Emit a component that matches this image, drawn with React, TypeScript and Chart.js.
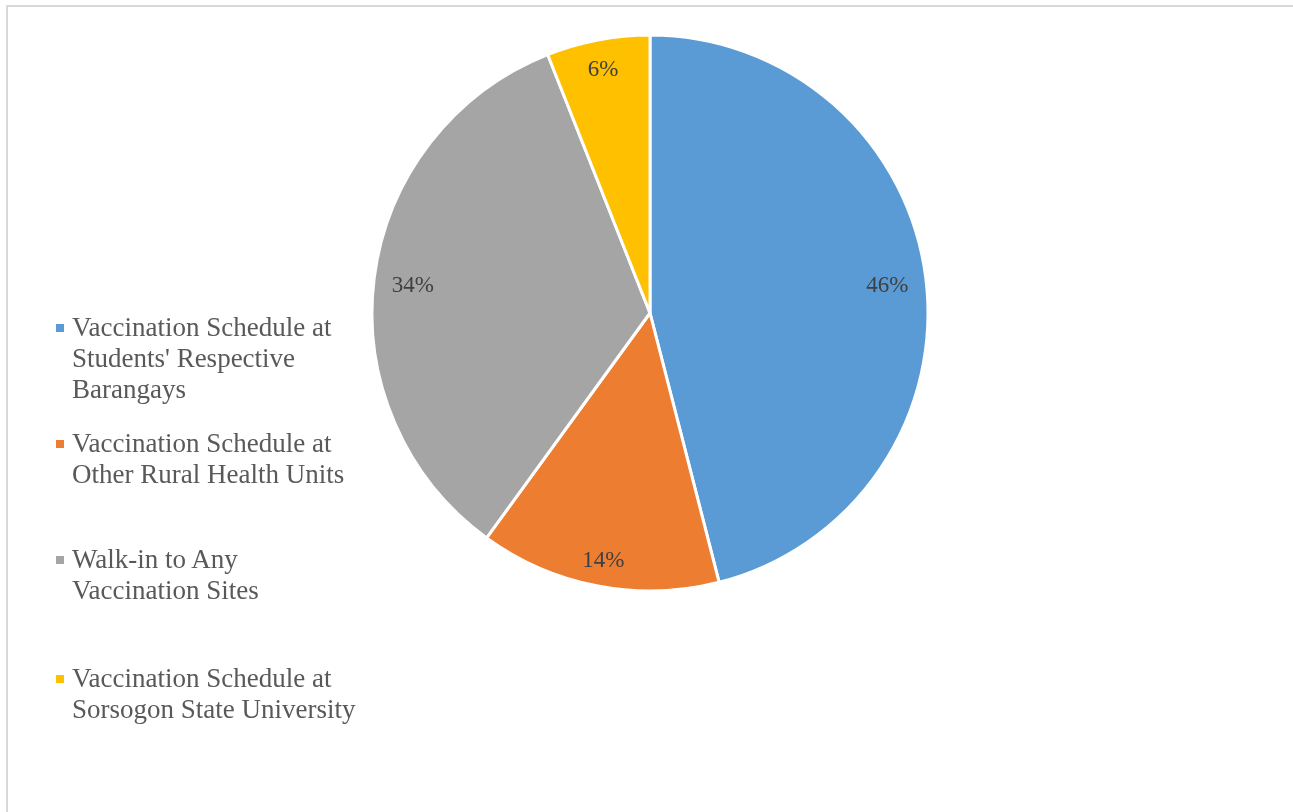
import React, { useEffect, useRef } from "react";
import { Chart, registerables } from "chart.js";

Chart.register(...registerables);

const categories: string[][] = [
  ["Vaccination Schedule at", "Students' Respective", "Barangays"],
  ["Vaccination Schedule at", "Other Rural Health Units"],
  ["Walk-in to Any", "Vaccination Sites"],
  ["Vaccination Schedule at", "Sorsogon State University"],
];
const shares: number[] = [46, 14, 34, 6];
const sliceColors: string[] = ["#5B9BD5", "#ED7D31", "#A5A5A5", "#FFC000"];

const LABEL_FONT = "23px 'Liberation Serif', 'Times New Roman', serif";

const insideEndLabels = {
  id: "insideEndLabels",
  afterDatasetsDraw(chart: any) {
    const ctx = chart.ctx;
    const meta = chart.getDatasetMeta(0);
    const data = chart.data.datasets[0].data as number[];
    const total = data.reduce((a: number, b: number) => a + b, 0);
    ctx.save();
    ctx.font = LABEL_FONT;
    ctx.fillStyle = "#404040";
    ctx.textAlign = "center";
    ctx.textBaseline = "middle";
    meta.data.forEach((arc: any, i: number) => {
      const { x, y, startAngle, endAngle, outerRadius } = arc.getProps(
        ["x", "y", "startAngle", "endAngle", "outerRadius"],
        true
      );
      const mid = (startAngle + endAngle) / 2;
      const ux = Math.cos(mid);
      const uy = Math.sin(mid);
      const text = Math.round((data[i] / total) * 100) + "%";
      const w = ctx.measureText(text).width;
      const h = 15;
      const pad = 17;
      const d = outerRadius - pad - (Math.abs(ux) * w) / 2 - (Math.abs(uy) * h) / 2;
      ctx.fillText(text, x + ux * d, y + uy * d + 3);
    });
    ctx.restore();
  },
};

export default function App() {
  const canvasRef = useRef<HTMLCanvasElement | null>(null);

  useEffect(() => {
    if (!canvasRef.current) return;
    const chart = new Chart(canvasRef.current, {
      type: "pie",
      data: {
        labels: categories.map((l) => l.join(" ")),
        datasets: [
          {
            data: shares,
            backgroundColor: sliceColors,
            borderColor: "#ffffff",
            borderWidth: 3,
            radius: 278,
          } as any,
        ],
      },
      options: {
        animation: false,
        responsive: false,
        maintainAspectRatio: false,
        layout: { padding: { left: 380, right: 373, top: 36, bottom: 222 } },
        plugins: {
          legend: { display: false },
          tooltip: { enabled: false },
          title: { display: false },
        },
      },
      plugins: [insideEndLabels],
    });
    return () => chart.destroy();
  }, []);

  const baselines = [336, 452, 568, 687];

  return (
    <div
      style={{
        position: "fixed",
        left: 0,
        top: 0,
        width: 1293,
        height: 812,
        background: "#ffffff",
        overflow: "hidden",
      }}
    >
      <div
        style={{
          position: "absolute",
          left: 6,
          top: 5,
          right: -10,
          bottom: -10,
          borderTop: "2px solid #d9d9d9",
          borderLeft: "2px solid #d9d9d9",
        }}
      />
      <canvas
        ref={canvasRef}
        width={1293}
        height={812}
        style={{ position: "absolute", left: 0, top: 0, width: 1293, height: 812 }}
      />
      {categories.map((lines, i) => (
        <div
          key={i}
          style={{
            position: "absolute",
            left: 56,
            top: baselines[i] - 24.5,
            fontFamily: "'Liberation Serif', 'Times New Roman', serif",
            fontSize: 27,
            lineHeight: "31px",
            color: "#595959",
            whiteSpace: "nowrap",
          }}
        >
          <span
            style={{
              position: "absolute",
              left: 0,
              top: 24.5 - 12.5,
              width: 8,
              height: 8,
              background: sliceColors[i],
            }}
          />
          <div style={{ marginLeft: 16 }}>
            {lines.map((t, j) => (
              <div key={j}>{t}</div>
            ))}
          </div>
        </div>
      ))}
    </div>
  );
}
